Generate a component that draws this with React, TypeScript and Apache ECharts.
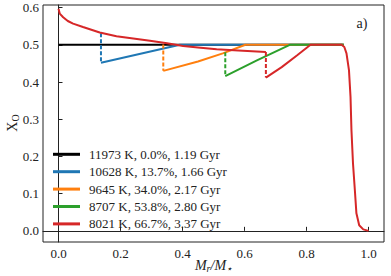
import React, { useEffect, useRef } from "react";
import * as echarts from "echarts";

const FONT = "Liberation Serif";

const legendNames = [
  "11973 K, 0.0%, 1.19 Gyr",
  "10628 K, 13.7%, 1.66 Gyr",
  "9645 K, 34.0%, 2.17 Gyr",
  "8707 K, 53.8%, 2.80 Gyr",
  "8021 K, 66.7%, 3.37 Gyr",
];
const colors = ["#000000", "#1f77b4", "#ff7f0e", "#2ca02c", "#d62728"];

const xTicks = [0, 0.2, 0.4, 0.6, 0.8, 1.0];
const yTicks = [0, 0.1, 0.2, 0.3, 0.4, 0.5, 0.6];

const blackLine = [[0, 0.5], [0.92, 0.5]];
const blueLine = [[0.137, 0.452], [0.392, 0.5], [0.92, 0.5]];
const blueDash = [[0.137, 0.531], [0.137, 0.452]];
const orangeLine = [[0.338, 0.43], [0.45, 0.455], [0.53, 0.477], [0.603, 0.5], [0.92, 0.5]];
const orangeDash = [[0.338, 0.501], [0.338, 0.43]];
const greenLine = [[0.538, 0.416], [0.64, 0.458], [0.746, 0.5], [0.92, 0.5]];
const greenDash = [[0.538, 0.48], [0.538, 0.416]];
const redLine: any[] = [
  [0, 0.597], [0.004, 0.584], [0.015, 0.574], [0.03, 0.564], [0.047, 0.557],
  [0.079, 0.548], [0.133, 0.533], [0.187, 0.523], [0.241, 0.517], [0.295, 0.511],
  [0.35, 0.504], [0.402, 0.497], [0.45, 0.493], [0.51, 0.488], [0.58, 0.485],
  [0.669, 0.481], [0.6695, "-"],
  [0.669, 0.412], [0.72, 0.44], [0.77, 0.472], [0.813, 0.5], [0.913, 0.5],
  [0.922, 0.494], [0.929, 0.477], [0.937, 0.432], [0.942, 0.36], [0.945, 0.271],
  [0.95, 0.181], [0.956, 0.109], [0.961, 0.047], [0.97, 0.015], [0.983, 0.004],
  [1.0, 0.0],
];
const redDash = [[0.669, 0.481], [0.669, 0.412]];

export default function App() {
  const ref = useRef<HTMLDivElement>(null);
  useEffect(() => {
    document.body.style.margin = "0";
    const chart = echarts.init(ref.current!, null, { renderer: "svg" });
    const solid = (name: string, data: any[], color: string, z: number) => ({
      name,
      type: "line",
      data,
      showSymbol: false,
      symbol: "none",
      lineStyle: { color, width: 2 },
      itemStyle: { color },
      z,
      connectNulls: false,
    });
    const dashed = (name: string, data: any[], color: string, z: number) => ({
      name,
      type: "line",
      data,
      showSymbol: false,
      symbol: "none",
      lineStyle: { color, width: 2, type: [4, 2] },
      itemStyle: { color },
      z,
    });
    chart.setOption({
      animation: false,
      grid: {
        left: 43,
        right: 7,
        top: 5,
        bottom: 34,
        show: true,
        borderColor: "#222",
        borderWidth: 1,
      },
      xAxis: {
        type: "value",
        min: -0.05,
        max: 1.05,
        splitLine: { show: false },
        axisLine: { lineStyle: { color: "#222", width: 1 } },
        axisTick: { inside: true, length: 4, customValues: xTicks, lineStyle: { color: "#222" } },
        axisLabel: {
          customValues: xTicks,
          formatter: (v: number) => v.toFixed(1),
          fontFamily: FONT,
          fontSize: 13,
          color: "#222",
          margin: 5,
        },
      },
      yAxis: {
        type: "value",
        min: -0.03,
        max: 0.607,
        splitLine: { show: false },
        axisLine: { show: true, lineStyle: { color: "#222", width: 1 } },
        axisTick: { show: true, inside: true, length: 4, customValues: yTicks, lineStyle: { color: "#222" } },
        axisLabel: {
          customValues: yTicks,
          formatter: (v: number) => v.toFixed(1),
          fontFamily: FONT,
          fontSize: 13,
          color: "#222",
          margin: 4,
        },
      },
      legend: {
        data: legendNames,
        orient: "vertical",
        left: 53,
        top: 145.6,
        padding: 0,
        itemGap: 0,
        itemWidth: 27,
        itemHeight: 3,
        icon: "rect",
        textStyle: {
          fontFamily: FONT,
          fontSize: 13,
          color: "#222",
          lineHeight: 17.4,
          padding: [0, 0, 0, 4],
        },
      },
      graphic: [
        {
          type: "text",
          x: 213.5,
          y: 265,
          style: {
            text: "{m|M}{s|r}{m|/M}{s|⋆}",
            align: "center",
            verticalAlign: "middle",
            rich: {
              m: { fontFamily: FONT, fontStyle: "italic", fontSize: 14, lineHeight: 16, verticalAlign: "middle", fill: "#222" },
              s: { fontFamily: FONT, fontStyle: "italic", fontSize: 10, lineHeight: 8, verticalAlign: "bottom", fill: "#222" },
            },
          },
        },
        {
          type: "text",
          x: 12,
          y: 123,
          rotation: Math.PI / 2,
          style: {
            text: "{m|X}{s|O}",
            align: "center",
            verticalAlign: "middle",
            rich: {
              m: { fontFamily: FONT, fontSize: 14, lineHeight: 16, verticalAlign: "middle", fill: "#222" },
              s: { fontFamily: FONT, fontSize: 10, lineHeight: 8, verticalAlign: "bottom", fill: "#222" },
            },
          },
        },
        {
          type: "text",
          x: 362,
          y: 23,
          style: {
            text: "a)",
            fontFamily: FONT,
            fontSize: 14,
            fill: "#222",
            align: "center",
            verticalAlign: "middle",
          },
        },
      ],
      series: [
        solid(legendNames[0], blackLine, colors[0], 2),
        solid(legendNames[1], blueLine, colors[1], 3),
        dashed("blueDash", blueDash, colors[1], 3),
        solid(legendNames[2], orangeLine, colors[2], 4),
        dashed("orangeDash", orangeDash, colors[2], 4),
        solid(legendNames[3], greenLine, colors[3], 5),
        dashed("greenDash", greenDash, colors[3], 5),
        solid(legendNames[4], redLine, colors[4], 6),
        dashed("redDash", redDash, colors[4], 6),
      ],
    });
    return () => chart.dispose();
  }, []);
  return <div ref={ref} style={{ width: 391, height: 276 }} />;
}
